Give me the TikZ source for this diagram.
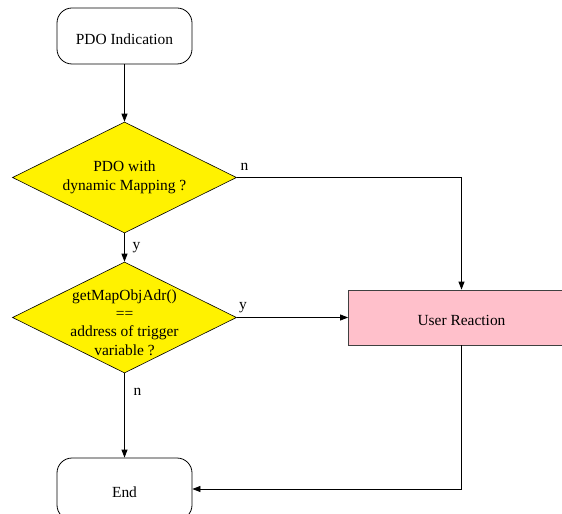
\documentclass[tikz,border=0pt]{standalone}
\usepackage{fontspec}
\setmainfont{Liberation Serif}
\usepackage{xcolor}
\usetikzlibrary{shapes.geometric,arrows.meta}
\definecolor{reactpink}{RGB}{255,192,203}

\begin{document}
\begin{tikzpicture}[x=1bp, y=-1bp,
    every node/.style={font=\fontsize{15.5}{18.5}\selectfont},
    term/.style={draw, rounded corners=15bp, minimum width=135bp, minimum height=56bp, line width=0.8bp, text height=16.5bp, text depth=0pt},
    decision/.style={draw, diamond, fill=yellow, minimum width=224bp, minimum height=111bp, inner sep=0pt, line width=0.6bp},
    action/.style={draw=black!75, fill=reactpink, minimum width=226bp, minimum height=55bp, line width=0.8bp, text height=16.5bp, text depth=0pt},
    flow/.style={-{Triangle[length=8bp,width=6bp]}, line width=0.8bp}]
    % frame
    \useasboundingbox (0,0) rectangle (562,514);
    \clip (0,0) rectangle (562,514);

    % boxes
    \node[term] (pdoind) at (124.5,36) {PDO Indication};
    \node[decision, label={[align=center]center:PDO with\\dynamic Mapping ?}] (chkmap) at (124.5,177.5) {};
    \node[decision, label={[align=center, yshift=-5bp]center:getMapObjAdr()\\==\\address of trigger\\variable ?}] (chkadr) at (124.5,317.5) {};
    \node[action] (usrreact) at (461.5,317.5) {User Reaction};
    \node[term, minimum height=62bp] (theend) at (124.5,489) {End};

    % flow
    \draw[flow] (pdoind.south) -- (chkmap.north);
    \draw[flow] (chkmap.south) -- (chkadr.north);
    \draw[flow] (chkmap.east) -| (usrreact.north);
    \draw[flow] (chkadr.east) -- (usrreact.west);
    \draw[flow] (chkadr.south) -- (theend.north);
    \draw[flow] (usrreact.south) |- (theend.east);

    % text
    \node (lbln1) at (244.5,166.5) {n};
    \node (lbly1) at (136.5,247.5) {y};
    \node (lbly2) at (243,307.5) {y};
    \node (lbln2) at (137.5,392) {n};
\end{tikzpicture}
\end{document}
